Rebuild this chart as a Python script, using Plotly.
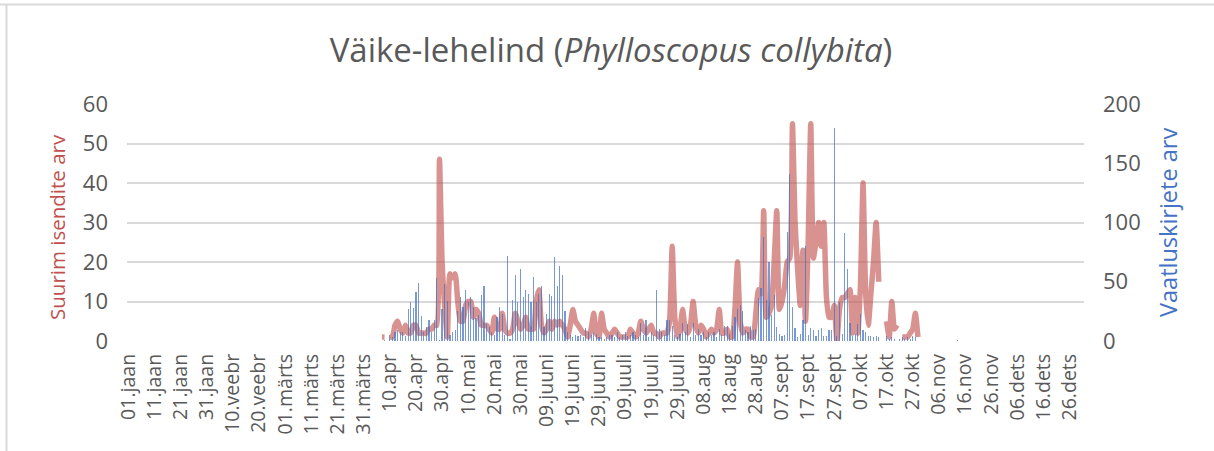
import plotly.graph_objects as go

# Colours
RED_LINE = 'rgba(192,80,77,0.62)'
RED_TITLE = '#C0504D'
BLUE_BAR = 'rgba(68,114,196,0.72)'
BLUE_TITLE = '#4472C4'
GRID = '#D9D9D9'
TEXT = '#595959'
FONT = 'Open Sans'

# Tick labels (every 10th day of a leap year)
TICK_DAYS = list(range(0, 366, 10))
TICK_TEXT = ['01.jaan', '11.jaan', '21.jaan', '31.jaan', '10.veebr', '20.veebr',
             '01.märts', '11.märts', '21.märts', '31.märts', '10.apr', '20.apr',
             '30.apr', '10.mai', '20.mai', '30.mai', '09.juuni', '19.juuni',
             '29.juuni', '09.juuli', '19.juuli', '29.juuli', '08.aug', '18.aug',
             '28.aug', '07.sept', '17.sept', '27.sept', '07.okt', '17.okt',
             '27.okt', '06.nov', '16.nov', '26.nov', '06.dets', '16.dets', '26.dets']

# Suurim isendite arv - daily max count, from day index 97 (07.apr)
LINE_START = 97
max_count = [
    1, 1, None, 1, 1, 4, 5, 3, 2, 4, 2, 2, 4, 4, 2, 2, 2, 2, 3, 3,      # 97-116
    4, 4, 46, 20, 9, 1, 17, 16, 17, 10, 5, 5, 9, 10, 10, 6, 8, 7, 4, 4,  # 117-136
    4, 3, 2, 6, 3, 3, 7, 3, 2, 2, 3, 7, 5, 3, 4, 6, 3, 3, 3, 10,        # 137-156
    13, 4, 2, 3, 5, 3, 5, 4, 5, 4, 3, 1, 4, 8, 5, 4, 3, 2, 2, 1,        # 157-176
    3, 7, 2, 1, 7, 3, 2, 1, 2, 3, 2, 1, 1, 1, 1, 3, 2, 1, 2, 5,         # 177-196
    3, 2, 3, 4, 2, 2, 1, 2, 2, 2, 5, 24, 6, 1, 3, 8, 3, 2, 4, 10,       # 197-216
    4, 2, 4, 3, 1, 2, 3, 2, 3, 8, 2, 2, 3, 1, 1, 8, 20, 5, 2, 3,        # 217-236
    3, 1, 1, 7, 13, 12, 33, 6, 7, 9, 20, 33, 8, 10, 14, 20, 21, 55, 30, 18,  # 237-256
    9, 23, 5, 25, 55, 21, 25, 30, 24, 30, 11, 6, 6, 9, 0, 8, 11, 11, 12, 13,  # 257-276
    2, 11, 2, 14, 40, 12, 4, 12, 20, 30, 15, None, None, 5, 1, 10, 3, 4, None, 1,  # 277-296
    1, 1, 2, 3, 7, 1,                                                    # 297-302
]

# Vaatluskirjete arv - daily number of records, from day index 97
BAR_START = 97
records = [
    0, 1, 0, 5, 3, 8, 9, 8, 8, 4, 27, 33, 28, 41, 49, 21, 8, 12, 18, 8,  # 97-116
    18, 53, 1, 27, 48, 34, 5, 8, 9, 25, 37, 29, 43, 33, 37, 29, 19, 22, 39, 46,  # 117-136
    14, 12, 8, 5, 20, 29, 23, 5, 72, 2, 35, 56, 33, 61, 37, 43, 40, 33, 54, 33,  # 137-156
    40, 46, 12, 23, 40, 38, 71, 46, 63, 56, 25, 8, 5, 3, 5, 4, 5, 3, 11, 8,  # 157-176
    5, 8, 6, 3, 3, 2, 3, 5, 5, 3, 8, 3, 5, 8, 4, 5, 8, 5, 3, 15,        # 177-196
    5, 18, 3, 8, 5, 43, 10, 8, 5, 18, 18, 13, 5, 3, 6, 15, 8, 14, 3, 15,  # 197-216
    5, 10, 5, 8, 3, 8, 5, 8, 3, 10, 5, 13, 13, 6, 13, 20, 27, 30, 25, 9,  # 217-236
    8, 13, 9, 10, 36, 45, 88, 35, 67, 22, 39, 12, 6, 4, 5, 92, 141, 29, 11, 3,  # 237-256
    6, 18, 80, 5, 11, 9, 4, 9, 11, 4, 4, 9, 9, 180, 4, 33, 6, 91, 61, 15,  # 257-276
    4, 6, 14, 23, 9, 8, 4, 4, 3, 4, 3, 0, 0, 4, 2, 3, 2, 0, 2, 3,       # 277-296
    2, 3, 2, 4, 3, 0, 0, 0, 0, 0, 0, 0, 0, 0, 0, 0, 0, 0, 0, 0,         # 297-316
    1,                                                                   # 317
]

line_days = list(range(LINE_START, LINE_START + len(max_count)))
bar_days = list(range(BAR_START, BAR_START + len(records)))

fig = go.Figure()

fig.add_trace(go.Bar(
    x=bar_days, y=records, yaxis='y2', name='Vaatluskirjete arv',
    width=0.45, marker=dict(color=BLUE_BAR, line=dict(width=0)),
))

fig.add_trace(go.Scatter(
    x=line_days, y=max_count, yaxis='y', name='Suurim isendite arv',
    mode='lines', connectgaps=False,
    line=dict(color=RED_LINE, width=5.5, shape='spline', smoothing=0.5),
))

# plot area spans x 127..1084 px, y 104..341 px
L, R, T, B = 127, 1084, 104, 341
W, H = 1214, 451


def px(x):
    return (x - L) / (R - L)


def py(y):
    return (B - y) / (B - T)


fig.update_layout(
    width=W, height=H,
    margin=dict(l=L, r=W - R, t=T, b=H - B, autoexpand=False),
    paper_bgcolor='white', plot_bgcolor='white',
    showlegend=False,
    font=dict(family=FONT, color=TEXT, size=19),
    title=dict(
        text='Väike-lehelind (<i>Phylloscopus collybita</i>)',
        x=px(611), xanchor='center', y=1 - 50 / H, yanchor='middle', xref='paper',
        font=dict(family=FONT, size=33, color=TEXT),
    ),
    xaxis=dict(
        range=[-0.5, 365.5], tickmode='array', tickvals=TICK_DAYS, ticktext=TICK_TEXT,
        tickangle=-90, showgrid=False, zeroline=False, showline=False, automargin=False,
        ticks='', ticklabelstandoff=8, tickfont=dict(size=19.5, color=TEXT),
    ),
    yaxis=dict(
        range=[0, 60], dtick=10, showgrid=True, gridcolor=GRID, gridwidth=2,
        zeroline=False, showline=False, ticks='', ticklabelstandoff=18, automargin=False,
        tickfont=dict(size=22, color=TEXT),
    ),
    yaxis2=dict(
        range=[0, 200], dtick=50, overlaying='y', side='right', showgrid=False,
        zeroline=False, showline=False, ticks='', ticklabelstandoff=18, automargin=False,
        tickfont=dict(size=22, color=TEXT),
    ),
    bargap=0,
    annotations=[
        dict(text='Suurim isendite arv', xref='paper', yref='paper',
             x=px(57), y=py(227), textangle=-90, showarrow=False,
             xanchor='center', yanchor='middle',
             font=dict(family=FONT, size=20.5, color=RED_TITLE)),
        dict(text='Vaatluskirjete arv', xref='paper', yref='paper',
             x=px(1168), y=py(223), textangle=-90, showarrow=False,
             xanchor='center', yanchor='middle',
             font=dict(family=FONT, size=23.5, color=BLUE_TITLE)),
    ],
    shapes=[
        dict(type='line', xref='paper', yref='paper', x0=px(0), x1=px(W),
             y0=py(4.5), y1=py(4.5), line=dict(color=GRID, width=2)),
        dict(type='line', xref='paper', yref='paper', x0=px(6.5), x1=px(6.5),
             y0=py(4.5), y1=py(H), line=dict(color=GRID, width=2)),
    ],
)

# drop the default page margin so the figure sits at the window's top-left corner
fig.write_html('out.html', config={'displayModeBar': False},
               post_script="document.body.style.margin='0';")
